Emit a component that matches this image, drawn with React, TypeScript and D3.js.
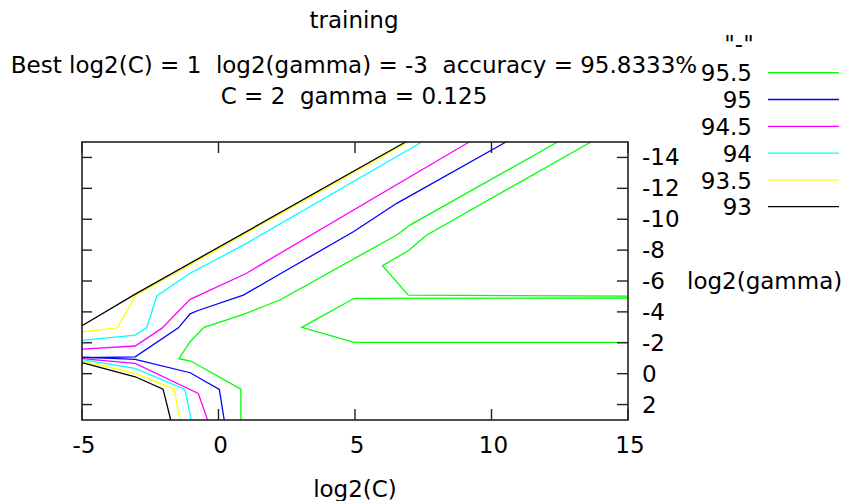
import React from "react";
import * as d3 from "d3";

// contour levels (key order) and their line colours
const levels = ["95.5", "95", "94.5", "94", "93.5", "93"];
const levelColors = ["#00ff00", "#0000ff", "#ff00ff", "#00ffff", "#ffff00", "#000000"];

// contour pieces as [log2(C), log2(gamma)] points
const contour955 = [
  [[0.82, 3], [0.82, 1.0], [-1.02, -0.82], [-1.45, -0.97], [-1.04, -2.07], [-0.53, -3.0], [0.91, -3.84], [2.25, -4.77], [6.53, -8.98], [7.01, -9.62], [12.42, -15]],
  [[13.64, -15], [7.63, -8.98], [6.95, -7.96], [6.01, -6.99], [6.95, -5.09], [15, -5.02]],
  [[15, -4.9], [4.97, -4.88], [3.05, -3.0], [4.97, -2.03], [15, -2.03]],
];
const contour95 = [
  [[-5, -1.03], [-3.05, -1.09], [-1.47, -2.97], [-1.04, -3.87], [-0.75, -4.09], [0.91, -5.09], [2.25, -6.45], [4.94, -9.19], [6.53, -11.03], [10.53, -15]],
  [[-5, -1.07], [-3.05, -0.93], [-1.04, -0.06], [0.03, 1.02], [0.21, 3]],
];
const contour945 = [
  [[-5, -1.59], [-3.05, -1.79], [-2.08, -2.93], [-1.04, -4.81], [1.03, -6.5], [1.52, -7.03], [9.18, -15]],
  [[-5, -0.98], [-3.05, -0.67], [-0.74, 1.28], [-0.4, 3]],
];
const contour94 = [
  [[-5, -2.16], [-3.05, -2.5], [-2.63, -2.97], [-2.26, -5.03], [-1.04, -6.5], [1.03, -8.44], [7.45, -15]],
  [[-5, -0.91], [-3.05, -0.34], [-1.23, 1.02], [-1.0, 3]],
];
const contour935 = [
  [[-5, -2.7], [-3.7, -2.97], [-3.05, -5.05], [6.95, -15]],
  [[-5, -0.82], [-3.05, -0.02], [-1.63, 0.98], [-1.41, 3]],
];
const contour93 = [
  [[-5, -3.1], [-3.05, -5.15], [6.85, -15]],
  [[-5, -0.72], [-3.05, 0.2], [-2.03, 1.0], [-1.75, 3]],
];
const contours = [contour955, contour95, contour945, contour94, contour935, contour93];

const xTicks = [-5, 0, 5, 10, 15];
const yTicks = [-14, -12, -10, -8, -6, -4, -2, 0, 2];

const W = 843;
const H = 501;
const font = "DejaVu Sans";
const fs = 23;

export default function App() {
  const x = d3.scaleLinear().domain([-5, 15]).range([82, 628]);
  const y = d3.scaleLinear().domain([-15, 3]).range([142, 420]);
  const line = d3
    .line<number[]>()
    .x((d) => x(d[0]))
    .y((d) => y(d[1]));

  const txt = { fontFamily: font, fontSize: fs, fill: "#000", whiteSpace: "pre" as const };

  return (
    <svg
      width={W}
      height={H}
      style={{ position: "absolute", left: 0, top: 0, background: "#fff" }}
    >
      <rect width={W} height={H} fill="#fff" />

      {/* titles */}
      <text x={354} y={28} textAnchor="middle" style={txt}>training</text>
      <text x={354} y={73} textAnchor="middle" style={txt}>
        {"Best log2(C) = 1  log2(gamma) = -3  accuracy = 95.8333%"}
      </text>
      <text x={354} y={104} textAnchor="middle" style={txt}>
        {"C = 2  gamma = 0.125"}
      </text>

      {/* contours */}
      {contours.map((pieces, i) =>
        pieces.map((p, j) => (
          <path
            key={`${i}-${j}`}
            d={line(p) || ""}
            fill="none"
            stroke={levelColors[i]}
            strokeWidth={1.3}
          />
        ))
      )}

      {/* border */}
      <rect x={82} y={142} width={546} height={278} fill="none" stroke="#222" strokeWidth={1.6} />

      {/* x ticks */}
      {xTicks.map((t) => (
        <g key={t}>
          <line x1={x(t)} x2={x(t)} y1={142} y2={153} stroke="#222" strokeWidth={1.4} />
          <line x1={x(t)} x2={x(t)} y1={420} y2={409} stroke="#222" strokeWidth={1.4} />
          <text x={x(t) + 2} y={453} textAnchor="middle" style={txt}>{t}</text>
        </g>
      ))}

      {/* y ticks */}
      {yTicks.map((t) => (
        <g key={t}>
          <line x1={82} x2={92} y1={y(t)} y2={y(t)} stroke="#222" strokeWidth={1.4} />
          <line x1={628} x2={617} y1={y(t)} y2={y(t)} stroke="#222" strokeWidth={1.4} />
          <text x={642} y={y(t) + 8} style={txt}>{t}</text>
        </g>
      ))}

      {/* axis labels */}
      <text x={355} y={497} textAnchor="middle" style={txt}>log2(C)</text>
      <text x={687} y={289} style={txt}>log2(gamma)</text>

      {/* key */}
      <text x={739} y={52} textAnchor="middle" style={txt}>"-"</text>
      {levels.map((lv, i) => {
        const ly = 72.7 + i * 26.8;
        return (
          <g key={lv}>
            <text x={752} y={ly + 8.7} textAnchor="end" style={txt}>{lv}</text>
            <line x1={768} x2={839} y1={ly} y2={ly} stroke={levelColors[i]} strokeWidth={1.3} />
          </g>
        );
      })}
    </svg>
  );
}
